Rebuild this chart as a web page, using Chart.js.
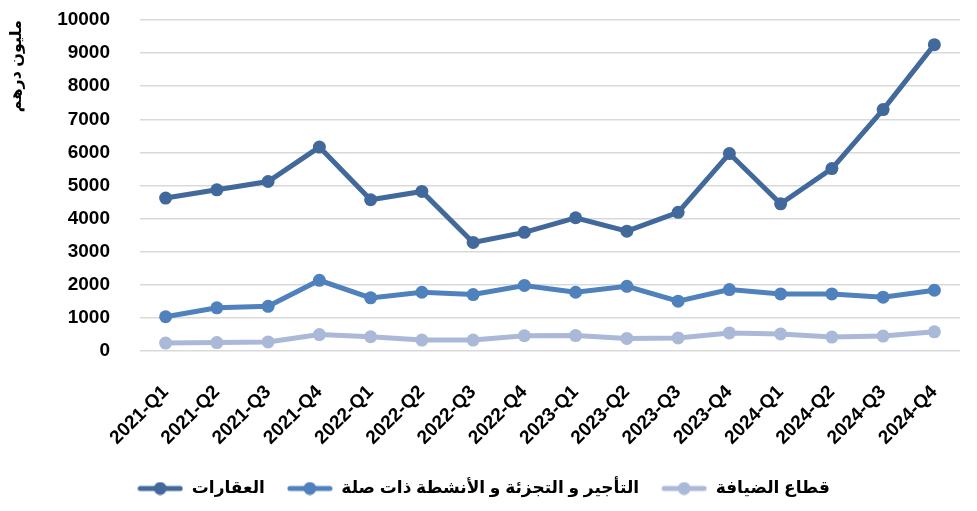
<!DOCTYPE html>
<html>
<head>
<meta charset="utf-8">
<script src="https://cdn.jsdelivr.net/npm/chart.js@4/dist/chart.umd.min.js"></script>
<style>
  html, body { margin: 0; padding: 0; background: #ffffff; }
  #wrap { width: 977px; height: 511px; position: relative; }
</style>
</head>
<body>
<div id="wrap"><canvas id="c" width="977" height="511"></canvas></div>
<script>
const quarters = ['2021-Q1','2021-Q2','2021-Q3','2021-Q4','2022-Q1','2022-Q2','2022-Q3','2022-Q4','2023-Q1','2023-Q2','2023-Q3','2023-Q4','2024-Q1','2024-Q2','2024-Q3','2024-Q4'];
const realEstate = [4620, 4870, 5120, 6160, 4570, 4820, 3280, 3585, 4025, 3620, 4190, 5965, 4445, 5510, 7295, 9255];
const rentalRetail = [1035, 1305, 1350, 2135, 1605, 1775, 1705, 1980, 1775, 1955, 1505, 1855, 1725, 1725, 1625, 1835];
const hospitality = [240, 255, 275, 495, 430, 330, 330, 460, 465, 380, 395, 545, 515, 420, 450, 580];
const seriesNames = ['العقارات', 'التأجير و التجزئة و الأنشطة ذات صلة', 'قطاع الضيافة'];
const yTitle = 'مليون درهم';
const yTicks = [0, 1000, 2000, 3000, 4000, 5000, 6000, 7000, 8000, 9000, 10000];

const colors = ['#42699B', '#4F81BD', '#AAB9D8'];
const FONT = "'Liberation Sans', Arial, 'DejaVu Sans', sans-serif";

function legendIcon(color) {
  const cv = document.createElement('canvas');
  cv.width = 46; cv.height = 14;
  const g = cv.getContext('2d');
  g.strokeStyle = color; g.lineWidth = 5; g.lineCap = 'round';
  g.beginPath(); g.moveTo(3, 7); g.lineTo(43, 7); g.stroke();
  g.fillStyle = color;
  g.beginPath(); g.arc(23, 7, 6.5, 0, Math.PI * 2); g.fill();
  return cv;
}

const seriesData = [realEstate, rentalRetail, hospitality];
const datasets = seriesData.map((d, i) => ({
  label: seriesNames[i],
  data: d,
  borderColor: colors[i],
  backgroundColor: colors[i],
  borderWidth: 5,
  pointRadius: 6.5,
  pointHoverRadius: 6.5,
  pointBorderWidth: 0,
  pointBackgroundColor: colors[i],
  tension: 0,
  fill: false
}));

new Chart(document.getElementById('c'), {
  type: 'line',
  data: { labels: quarters, datasets },
  options: {
    responsive: false,
    animation: false,
    devicePixelRatio: 1,
    layout: { padding: { left: 7, right: 17, top: 0, bottom: 4 } },
    plugins: {
      tooltip: { enabled: false },
      legend: {
        position: 'bottom',
        labels: {
          usePointStyle: true,
          pointStyleWidth: 46,
          padding: 22,
          color: '#000',
          font: { family: FONT, size: 17, weight: 'bold' },
          generateLabels(chart) {
            return chart.data.datasets.map((ds, i) => ({
              text: ds.label,
              pointStyle: legendIcon(colors[i]),
              fillStyle: colors[i],
              strokeStyle: colors[i],
              lineWidth: 0,
              hidden: false,
              datasetIndex: i,
              fontColor: '#000'
            }));
          }
        }
      }
    },
    scales: {
      x: {
        offset: true,
        grid: { display: false, drawTicks: false },
        border: { display: false },
        afterFit(scale) { scale.height = 107; scale.paddingLeft = 0; scale.paddingRight = 0; },
        ticks: {
          minRotation: 45, maxRotation: 45,
          autoSkip: false,
          padding: 30,
          color: '#000',
          font: { family: FONT, size: 19, weight: 'bold' }
        }
      },
      y: {
        min: 0, max: 10000,
        afterBuildTicks(scale) { scale.ticks = yTicks.map(v => ({ value: v })); },
        afterFit(scale) { scale.width = 133; scale.paddingTop = 20; scale.paddingBottom = 0; },
        grid: { color: '#D9D9D9', lineWidth: 1.5, drawTicks: false },
        border: { display: false },
        ticks: {
          padding: 30,
          color: '#000',
          callback: v => String(v),
          font: { family: FONT, size: 19, weight: 'bold' }
        },
        title: {
          display: true,
          text: yTitle,
          align: 'end',
          color: '#000',
          padding: 0,
          font: { family: FONT, size: 16, weight: 'bold' }
        }
      }
    }
  }
});
</script>
</body>
</html>
